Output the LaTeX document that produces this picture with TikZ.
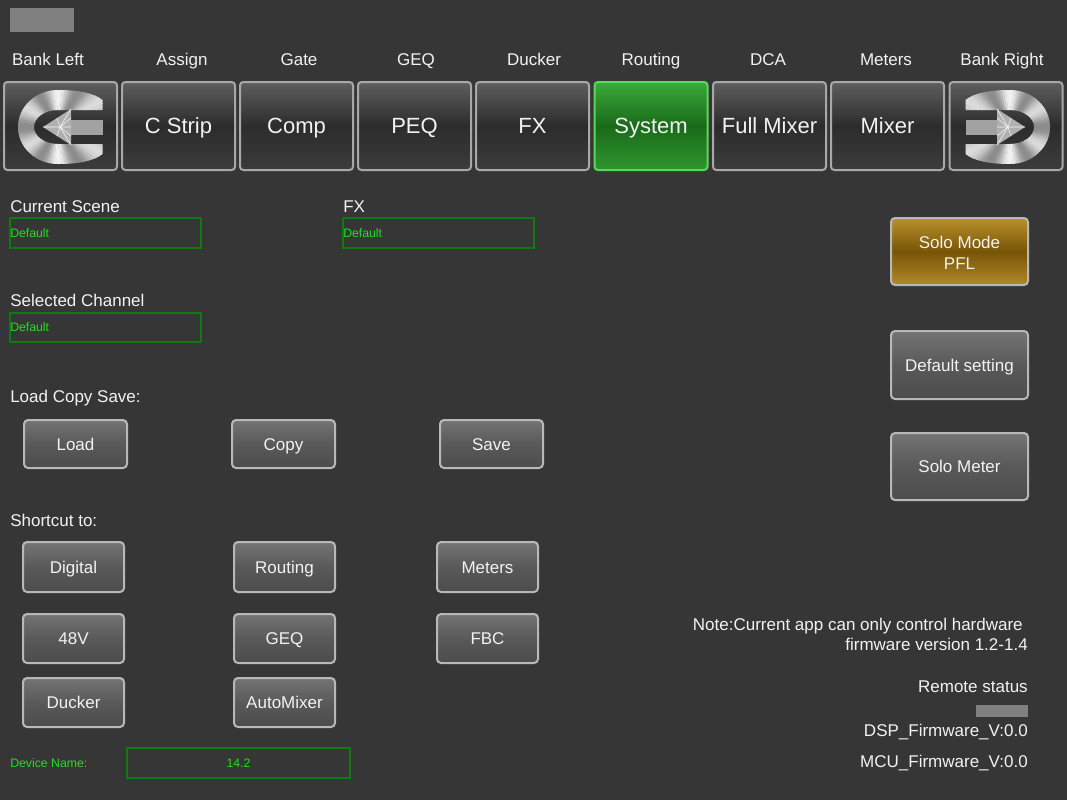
\documentclass[tikz,border=0pt]{standalone}
\usepackage{fontspec}
\setmainfont{Liberation Sans}
\definecolor{bg}{HTML}{363636}
\definecolor{fg}{HTML}{F2F2F2}
\definecolor{grtext}{HTML}{22DD22}
\definecolor{grbox}{HTML}{0F7A0F}
\definecolor{tbord}{HTML}{A8A8A8}
\definecolor{tA}{HTML}{5E5E5E}
\definecolor{tB}{HTML}{2C2C2C}
\definecolor{tC}{HTML}{3C3C3C}
\definecolor{gA}{HTML}{3AAA3A}
\definecolor{gB}{HTML}{1A6A1A}
\definecolor{gC}{HTML}{2E962E}
\definecolor{gbord}{HTML}{5AD85A}
\definecolor{bA}{HTML}{747474}
\definecolor{bB}{HTML}{595959}
\definecolor{bC}{HTML}{4C4C4C}
\definecolor{bbord}{HTML}{B8B8B8}
\definecolor{yA}{HTML}{B8922C}
\definecolor{yB}{HTML}{785406}
\definecolor{yC}{HTML}{B08A28}
\definecolor{graybar}{HTML}{808080}
\definecolor{mlight}{HTML}{F2F2F2}
\definecolor{mdark}{HTML}{8C8C8C}
\definecolor{shaft}{HTML}{A2A2A2}
\definecolor{head}{HTML}{B0B0B0}
\tikzset{
  txt/.style={text=fg, inner sep=0pt, text height=9.1pt, text depth=0pt,
    font=\fontsize{12.75}{15.75}\selectfont},
  smalltxt/.style={text=grtext, inner sep=0pt, text height=6.6pt, text depth=0pt,
    font=\fontsize{9.2}{11}\selectfont},
  bsize/.style 2 args={minimum width=#1*0.75pt, minimum height=#2*0.75pt},
  topbtn/.style={draw=tbord, line width=1.5pt, rounded corners=2.5pt,
    top color=tA, bottom color=tC, middle color=tB, text=fg, inner sep=0pt,
    text height=11.8pt, text depth=0pt,
    bsize={113}{88}, font=\fontsize{16.5}{20}\selectfont},
  selbtn/.style={topbtn, draw=gbord, top color=gA, bottom color=gC, middle color=gB},
  lowbtn/.style={draw=bbord, line width=1.5pt, rounded corners=3pt,
    top color=bA, bottom color=bC, middle color=bB, text=fg, inner sep=0pt,
    text height=9.1pt, text depth=0pt,
    font=\fontsize{12.75}{15.75}\selectfont},
  goldbtn/.style={lowbtn, top color=yA, bottom color=yC, middle color=yB},
  greenbox/.style={draw=grbox, line width=1.5pt},
  ray/.style={draw=white!90!gray, line width=0.45pt}
}
\newcommand\cshapepath{(44.5,-17) -- (0,-17) arc[start angle=270,end angle=90,x radius=24,y radius=17]
    -- (44.5,17) -- (44.5,27) .. controls (36,34) and (20,37) .. (0,37)
    arc[start angle=90,end angle=270,x radius=40,y radius=37]
    .. controls (20,-37) and (36,-34) .. (44.5,-27) -- cycle}
\newcommand\bankicon{%
  \begin{scope}
    \clip \cshapepath;
    \foreach \a in {0,4,...,356}{
      \pgfmathtruncatemacro\m{(50-50*cos(6*(\a+2)))*(0.55+0.45*abs(sin(\a+2)))}
      \fill[mlight!\m!mdark] (0,0) -- (\a:60) -- (\a+4.6:60) -- cycle;
    }
  \end{scope}
  \fill[shaft] (13,-7.5) rectangle (44.5,7.5);
  \fill[head] (-15,0) -- (13,-18) -- (13,18) -- cycle;
  \draw[ray] (2,0) -- (-15,0) (2,0) -- (13,-18) (2,0) -- (13,18)
    (2,0) -- (13,0) (2,0) -- (-1,-9) (2,0) -- (-1,9) (2,0) -- (13,-9) (2,0) -- (13,9);
}
\begin{document}
\begin{tikzpicture}[x=0.75pt,y=-0.75pt]
\fill[bg] (0,0) rectangle (1067,800);
\useasboundingbox (0,0) rectangle (1067,800);
\fill[graybar] (10,8) rectangle (74,32);

% top labels
\node[txt] (l1) at (48,59) {Bank Left};
\node[txt] (l2) at (182,59) {Assign};
\node[txt] (l3) at (299,59) {Gate};
\node[txt] (l4) at (416,59) {GEQ};
\node[txt] (l5) at (534,59) {Ducker};
\node[txt] (l6) at (651,59) {Routing};
\node[txt] (l7) at (768,59) {DCA};
\node[txt] (l8) at (886,59) {Meters};
\node[txt] (l9) at (1002,59) {Bank Right};

% top buttons
\node[topbtn] (b1) at (60.5,126) {};
\node[topbtn] (b2) at (178.5,126) {C Strip};
\node[topbtn] (b3) at (296.5,126) {Comp};
\node[topbtn] (b4) at (414.5,126) {PEQ};
\node[topbtn] (b5) at (532.5,126) {FX};
\node[selbtn] (b6) at (651,126) {System};
\node[topbtn] (b7) at (769.5,126) {Full Mixer};
\node[topbtn] (b8) at (887.5,126) {Mixer};
\node[topbtn] (b9) at (1006,126) {};

% bank icons
\begin{scope}[shift={(58,127)}]
  \bankicon
\end{scope}
\begin{scope}[shift={(1010,127)}, xscale=-1]
  \bankicon
\end{scope}

% scene fields
\node[txt, anchor=west] (cs) at (10,206) {Current Scene};
\draw[greenbox] (10,218) rectangle (201,248);
\node[smalltxt, anchor=west] (csv) at (10,233) {Default};
\node[txt, anchor=west] (fx) at (343,206) {FX};
\draw[greenbox] (343,218) rectangle (534,248);
\node[smalltxt, anchor=west] (fxv) at (343,233) {Default};
\node[txt, anchor=west] (sc) at (10,300) {Selected Channel};
\draw[greenbox] (10,313) rectangle (201,342);
\node[smalltxt, anchor=west] (scv) at (10,327.5) {Default};

% load copy save
\node[txt, anchor=west] (lcs) at (10,396) {Load Copy Save:};
\node[lowbtn, bsize={103}{48}] (load) at (75.5,444) {Load};
\node[lowbtn, bsize={103}{48}] (copy) at (283.5,444) {Copy};
\node[lowbtn, bsize={103}{48}] (save) at (491.5,444) {Save};

% shortcuts
\node[txt, anchor=west] (sct) at (10,520) {Shortcut to:};
\node[lowbtn, bsize={101}{50}] (dig) at (73.5,567) {Digital};
\node[lowbtn, bsize={101}{50}] (rout) at (284.5,567) {Routing};
\node[lowbtn, bsize={101}{50}] (met) at (487.5,567) {Meters};
\node[lowbtn, bsize={101}{49}] (v48) at (73.5,638.5) {48V};
\node[lowbtn, bsize={101}{49}] (geq) at (284.5,638.5) {GEQ};
\node[lowbtn, bsize={101}{49}] (fbc) at (487.5,638.5) {FBC};
\node[lowbtn, bsize={101}{49}] (duck) at (73.5,702.5) {Ducker};
\node[lowbtn, bsize={101}{49}] (amix) at (284.5,702.5) {AutoMixer};

% device name
\node[smalltxt, anchor=west] (dn) at (10,763) {Device Name:};
\draw[greenbox] (127,748) rectangle (350,778);
\node[smalltxt] (dnv) at (238.5,763) {14.2};

% right column
\node[goldbtn, bsize={137}{67}] (solo) at (959.5,251.5) {};
\node[txt] (solo1) at (959.5,242) {Solo Mode};
\node[txt] (solo2) at (959.5,263) {PFL};
\node[lowbtn, bsize={137}{68}] (defs) at (959.5,365) {Default setting};
\node[lowbtn, bsize={137}{67}] (solom) at (959.5,466.5) {Solo Meter};

\node[txt, anchor=east] (n1) at (1023,624) {Note:Current app can only control hardware};
\node[txt, anchor=east] (n2) at (1028,644) {firmware version 1.2-1.4};
\node[txt, anchor=east] (rs) at (1028,686) {Remote status};
\fill[graybar] (976,705) rectangle (1028,717);
\node[txt, anchor=east] (dsp) at (1028,730) {DSP\_Firmware\_V:0.0};
\node[txt, anchor=east] (mcu) at (1028,761) {MCU\_Firmware\_V:0.0};
\end{tikzpicture}
\end{document}
